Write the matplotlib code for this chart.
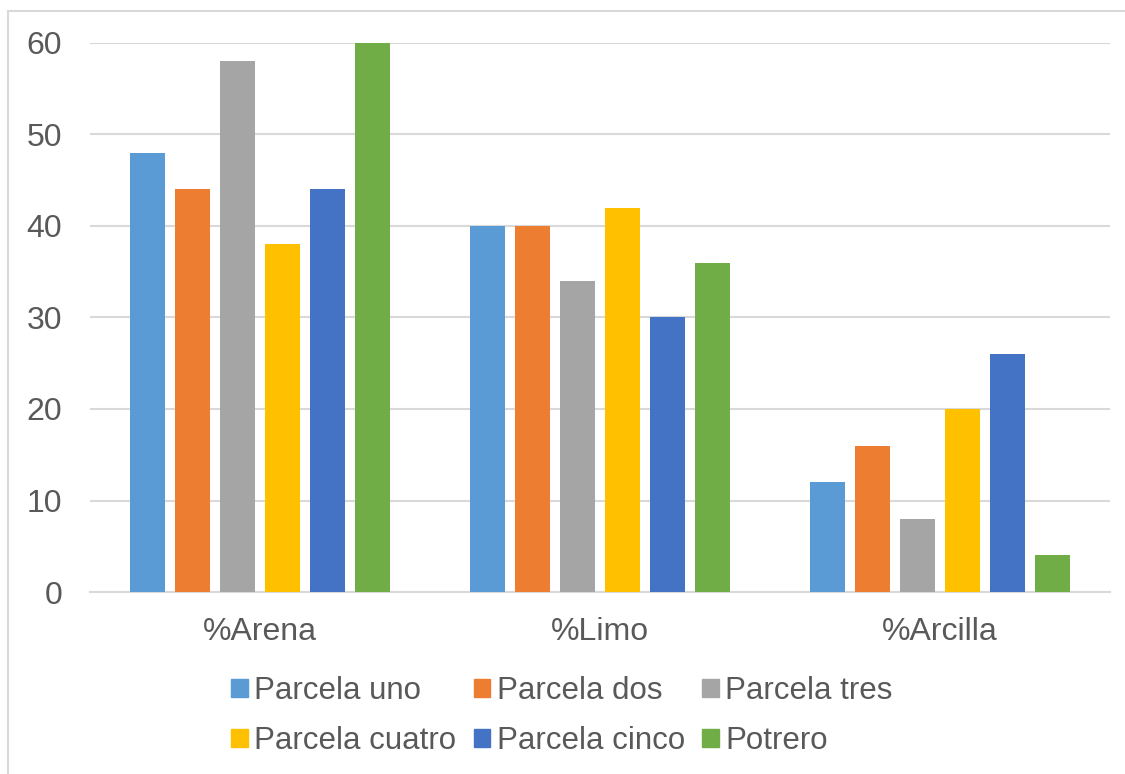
import matplotlib.pyplot as plt
import matplotlib.patches as mpatches
import numpy as np

categories = ['%Arena', '%Limo', '%Arcilla']
series_names = ['Parcela uno', 'Parcela dos', 'Parcela tres',
                'Parcela cuatro', 'Parcela cinco', 'Potrero']
parcela_uno = [48, 40, 12]
parcela_dos = [44, 40, 16]
parcela_tres = [58, 34, 8]
parcela_cuatro = [38, 42, 20]
parcela_cinco = [44, 30, 26]
potrero = [60, 36, 4]
colors = ['#5B9BD5', '#ED7D31', '#A5A5A5', '#FFC000', '#4472C4', '#70AD47']

series = [parcela_uno, parcela_dos, parcela_tres,
          parcela_cuatro, parcela_cinco, potrero]

plt.rcParams['font.family'] = ['Liberation Sans', 'DejaVu Sans']
text_color = '#595959'
grid_color = '#D9D9D9'

fig = plt.figure(figsize=(11.25, 7.74), dpi=100)
W, H = 1125, 774
ax = fig.add_axes([90 / W, 1 - 592 / H, 1020 / W, 549 / H])

x = np.arange(len(categories))
pitch = 45 / 340
width = 35 / 340
handles = []
for i, (name, vals) in enumerate(zip(series_names, series)):
    offs = (i - 2.5) * pitch
    ax.bar(x + offs, vals, width=width, color=colors[i], label=name, zorder=3)
    handles.append(mpatches.Patch(color=colors[i], label=name))

ax.set_xlim(-0.5, 2.5)
ax.set_ylim(0, 60)
ax.set_yticks(range(0, 61, 10))
ax.set_xticks(x)
ax.set_xticklabels(categories)
ax.yaxis.grid(True, color=grid_color, linewidth=1.5, zorder=0)
for s in ['top', 'right', 'left']:
    ax.spines[s].set_visible(False)
ax.spines['bottom'].set_color(grid_color)
ax.spines['bottom'].set_linewidth(1.5)
ax.tick_params(axis='both', length=0, labelsize=23, colors=text_color)
ax.tick_params(axis='y', pad=20)
ax.tick_params(axis='x', pad=18)

order = [0, 3, 1, 4, 2, 5]
fig.legend([handles[i] for i in order], [series_names[i] for i in order],
           ncol=3, loc='center', bbox_to_anchor=(562 / W, 1 - 716 / H),
           frameon=False, fontsize=22.5, handlelength=0.52, handleheight=0.52,
           handletextpad=0.22, columnspacing=0.55, labelspacing=0.62,
           labelcolor=text_color)

# chart border
fig.patches.append(mpatches.Rectangle((8 / W, -0.1), 1.2, 1 - 11 / H + 0.1,
                                      transform=fig.transFigure, fill=False,
                                      edgecolor=grid_color, linewidth=1.5))

fig.savefig('out.png', dpi=100)
